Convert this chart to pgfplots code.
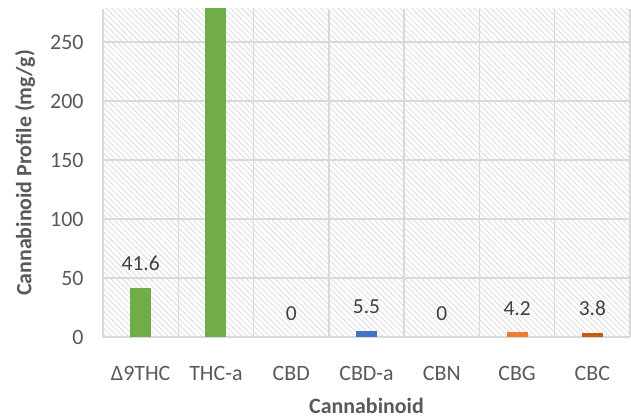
\documentclass[border=0pt]{standalone}
\usepackage{fontspec}
\setmainfont{Carlito}
\usepackage{pgfplots}
\pgfplotsset{compat=1.18}
\usetikzlibrary{patterns.meta}
\definecolor{gridc}{HTML}{D9D9D9}
\definecolor{hatchc}{HTML}{DCDCDC}
\definecolor{tickc}{HTML}{595959}
\definecolor{labc}{HTML}{404040}
\definecolor{cgreen}{HTML}{70AD47}
\definecolor{cblue}{HTML}{4472C4}
\definecolor{corange}{HTML}{ED7D31}
\definecolor{cdark}{HTML}{C55A11}
\begin{document}
\begin{tikzpicture}
\useasboundingbox (-103bp,-80bp) rectangle (528bp,337bp);
\begin{axis}[
  at={(0,0)}, anchor=south west,
  scale only axis, width=527bp, height=328bp,
  xmin=-0.5, xmax=6.5, ymin=0, ymax=278,
  xtick={0,1,2,3,4,5,6},
  xticklabels={Δ9THC,THC-a,CBD,CBD-a,CBN,CBG,CBC},
  minor xtick={-0.5,0.5,1.5,2.5,3.5,4.5,5.5,6.5},
  ytick={0,50,100,150,200,250},
  /pgf/number format/assume math mode=true,
  ymajorgrids, xminorgrids,
  major grid style={draw=gridc, line width=1.3bp},
  minor grid style={draw=gridc, line width=1.3bp},
  axis line style={draw=none},
  tick style={draw=none},
  axis background/.style={pattern={Lines[angle=-45,distance=4bp,line width=0.8bp]}, pattern color=hatchc},
  ticklabel style={font=\fontsize{22}{26}\selectfont, text=tickc},
  yticklabel style={xshift=-16bp},
  xticklabel style={anchor=base, yshift=-39bp},
  every axis x label/.style={at={(axis description cs:0.5,0)}, anchor=base, yshift=-76bp, font=\bfseries\fontsize{22}{26}\selectfont, text=tickc},
  every axis y label/.style={at={(axis description cs:0,0.5)}, xshift=-78bp, rotate=90, anchor=center, font=\bfseries\fontsize{22}{26}\selectfont, text=tickc},
  xlabel={Cannabinoid},
  ylabel={Cannabinoid Profile (mg/g)},
  ybar, bar width=21bp, bar shift=0pt,
  point meta=explicit symbolic,
  every node near coord/.style={anchor=base, yshift=17bp, font=\fontsize{21.5}{26}\selectfont, text=labc},
  clip=true,
]
\addplot[fill=cgreen, draw=none, nodes near coords] coordinates {(0,41.6) [41.6]};
\addplot[fill=cgreen, draw=none] coordinates {(1,300)};
\addplot[fill=none, draw=none, nodes near coords] coordinates {(2,0) [0]};
\addplot[fill=cblue, draw=none, nodes near coords] coordinates {(3,5.5) [5.5]};
\addplot[fill=none, draw=none, nodes near coords] coordinates {(4,0) [0]};
\addplot[fill=corange, draw=none, nodes near coords] coordinates {(5,4.2) [4.2]};
\addplot[fill=cdark, draw=none, nodes near coords] coordinates {(6,3.8) [3.8]};
\end{axis}
\end{tikzpicture}
\end{document}
